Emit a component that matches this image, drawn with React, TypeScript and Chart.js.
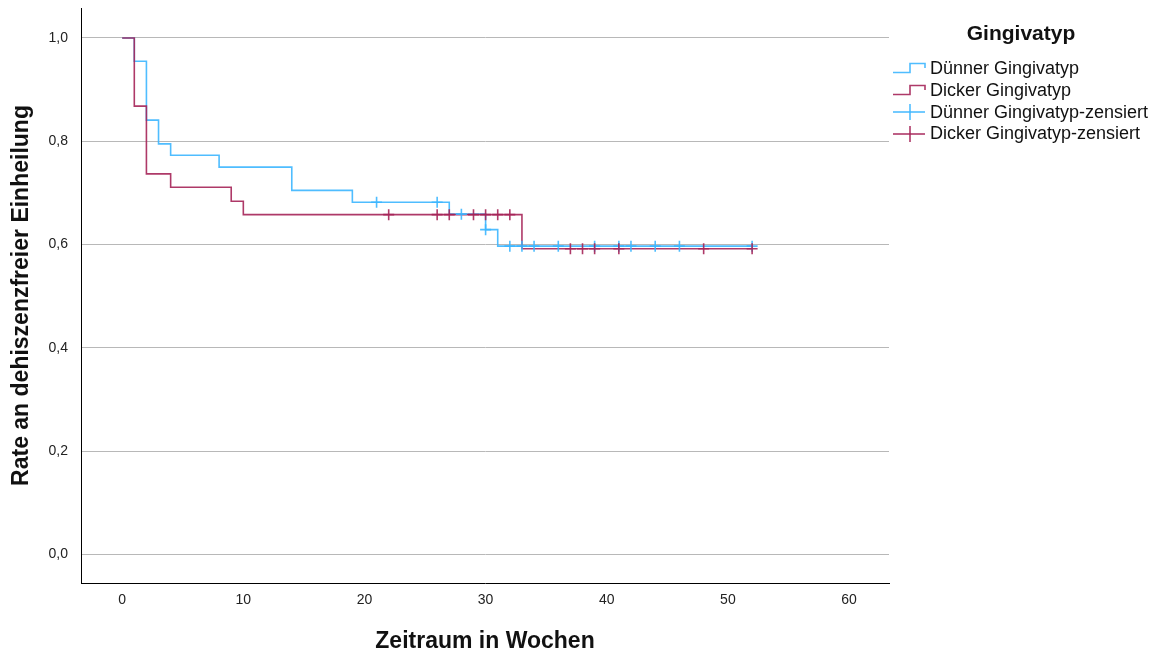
import React, { useEffect, useRef } from 'react';
import { Chart, registerables } from 'chart.js';

Chart.register(...registerables);

// Kaplan-Meier step data (weeks, survival)
const thinTimes = [0, 1, 2, 3, 4, 8, 14, 19, 27, 30, 31, 52];
const thinSurvival = [1, 0.955, 0.841, 0.795, 0.773, 0.75, 0.705, 0.682, 0.659, 0.629, 0.597, 0.597];
const thickTimes = [0, 1, 2, 4, 9, 10, 33, 52];
const thickSurvival = [1, 0.868, 0.737, 0.711, 0.684, 0.658, 0.592, 0.592];

// Censored observations
const thinCensoredTimes = [21, 26, 28, 30, 32, 33, 34, 36, 39, 41, 42, 44, 46, 52];
const thinCensoredSurvival = [0.682, 0.682, 0.659, 0.629, 0.597, 0.597, 0.597, 0.597, 0.597, 0.597, 0.597, 0.597, 0.597, 0.597];
const thickCensoredTimes = [22, 26, 27, 29, 30, 31, 32, 37, 38, 39, 41, 48, 52];
const thickCensoredSurvival = [0.658, 0.658, 0.658, 0.658, 0.658, 0.658, 0.658, 0.592, 0.592, 0.592, 0.592, 0.592, 0.592];

const xTicks = [0, 10, 20, 30, 40, 50, 60];
const yTicks = [0, 0.2, 0.4, 0.6, 0.8, 1.0];
const seriesLabels = ['Dünner Gingivatyp', 'Dicker Gingivatyp', 'Dünner Gingivatyp-zensiert', 'Dicker Gingivatyp-zensiert'];
const legendTitle = 'Gingivatyp';
const xTitle = 'Zeitraum in Wochen';
const yTitle = 'Rate an dehiszenzfreier Einheilung';

const BLUE = 'rgba(60,182,255,0.9)';
const RED = 'rgba(165,35,88,0.9)';
const FONT = '"Liberation Sans", Arial, sans-serif';

const toPoints = (xs: number[], ys: number[]) => xs.map((x, i) => ({ x, y: ys[i] }));

function StepIcon({ color }: { color: string }) {
  return (
    <svg width="36" height="20" style={{ display: 'block' }}>
      <polyline points="1,13.5 18,13.5 18,4.5 33,4.5 33,9" fill="none" stroke={color} strokeWidth="1.6" />
    </svg>
  );
}

function CrossIcon({ color }: { color: string }) {
  return (
    <svg width="36" height="20" style={{ display: 'block' }}>
      <line x1="1" y1="10" x2="33" y2="10" stroke={color} strokeWidth="1.6" />
      <line x1="18" y1="2" x2="18" y2="18" stroke={color} strokeWidth="1.6" />
    </svg>
  );
}

export default function App() {
  const canvasRef = useRef<HTMLCanvasElement | null>(null);

  useEffect(() => {
    document.body.style.margin = '0';
    const canvas = canvasRef.current;
    if (!canvas) return;
    const chart = new Chart(canvas, {
      type: 'line',
      data: {
        datasets: [
          {
            label: seriesLabels[0],
            data: toPoints(thinTimes, thinSurvival),
            borderColor: BLUE,
            borderWidth: 1.6,
            stepped: 'before',
            pointRadius: 0,
            fill: false,
            order: 4,
          },
          {
            label: seriesLabels[1],
            data: toPoints(thickTimes, thickSurvival),
            borderColor: RED,
            borderWidth: 1.6,
            stepped: 'before',
            pointRadius: 0,
            fill: false,
            order: 3,
          },
          {
            label: seriesLabels[2],
            data: toPoints(thinCensoredTimes, thinCensoredSurvival),
            showLine: false,
            pointStyle: 'cross',
            pointRadius: 5.5,
            pointBorderWidth: 1.6,
            pointBorderColor: BLUE,
            borderColor: BLUE,
            order: 2,
          },
          {
            label: seriesLabels[3],
            data: toPoints(thickCensoredTimes, thickCensoredSurvival),
            showLine: false,
            pointStyle: 'cross',
            pointRadius: 5.5,
            pointBorderWidth: 1.6,
            pointBorderColor: RED,
            borderColor: RED,
            order: 1,
          },
        ],
      },
      options: {
        responsive: false,
        animation: false,
        layout: { padding: { top: 8, right: 270, bottom: 0, left: 0 } },
        plugins: { legend: { display: false }, tooltip: { enabled: false } },
        scales: {
          x: {
            type: 'linear',
            min: -3.4,
            max: 63.3,
            afterBuildTicks: (scale: any) => {
              scale.ticks = xTicks.map((v) => ({ value: v }));
            },
            afterFit: (scale: any) => {
              scale.height = 72;
              scale.paddingLeft = 0;
              scale.paddingRight = 0;
            },
            grid: { display: false, drawTicks: false },
            border: { display: true, color: '#000', width: 1 },
            ticks: {
              padding: 9,
              color: '#222',
              font: { family: FONT, size: 14 },
              callback: (v: any) => String(v),
            },
            title: {
              display: true,
              text: xTitle,
              color: '#111',
              font: { family: FONT, size: 23, weight: 'bold' },
              padding: { top: 0, bottom: 0 },
            },
          },
          y: {
            type: 'linear',
            min: -0.055,
            max: 1.058,
            afterBuildTicks: (scale: any) => {
              scale.ticks = yTicks.map((v) => ({ value: v }));
            },
            afterFit: (scale: any) => {
              scale.width = 81;
              scale.paddingTop = 0;
              scale.paddingBottom = 0;
            },
            grid: { display: true, color: '#b8b8b8', lineWidth: 1, drawTicks: false },
            border: { display: true, color: '#000', width: 1 },
            ticks: {
              padding: 13,
              color: '#222',
              font: { family: FONT, size: 14 },
              callback: (v: any) => Number(v).toFixed(1).replace('.', ','),
            },
            title: {
              display: true,
              text: yTitle,
              color: '#111',
              font: { family: FONT, size: 23, weight: 'bold' },
              padding: { top: 8, bottom: 0 },
            },
          },
        },
      },
    });
    return () => chart.destroy();
  }, []);

  const legendItems = [
    { label: seriesLabels[0], icon: <StepIcon color={BLUE} /> },
    { label: seriesLabels[1], icon: <StepIcon color={RED} /> },
    { label: seriesLabels[2], icon: <CrossIcon color={BLUE} /> },
    { label: seriesLabels[3], icon: <CrossIcon color={RED} /> },
  ];

  return (
    <div style={{ position: 'relative', width: 1159, height: 655, background: '#fff' }}>
      <canvas ref={canvasRef} width={1159} height={655} style={{ display: 'block' }} />
      <div
        style={{
          position: 'absolute',
          left: 960,
          width: 122,
          top: 19,
          textAlign: 'center',
          fontFamily: FONT,
          fontWeight: 'bold',
          fontSize: 21,
          lineHeight: '28px',
          color: '#111',
        }}
      >
        {legendTitle}
      </div>
      <div style={{ position: 'absolute', left: 892, top: 58, fontFamily: FONT, fontSize: 18, color: '#111' }}>
        {legendItems.map((it, i) => (
          <div key={i} style={{ display: 'flex', alignItems: 'center', height: 21.7, whiteSpace: 'nowrap' }}>
            {it.icon}
            <span style={{ marginLeft: 2 }}>{it.label}</span>
          </div>
        ))}
      </div>
    </div>
  );
}
